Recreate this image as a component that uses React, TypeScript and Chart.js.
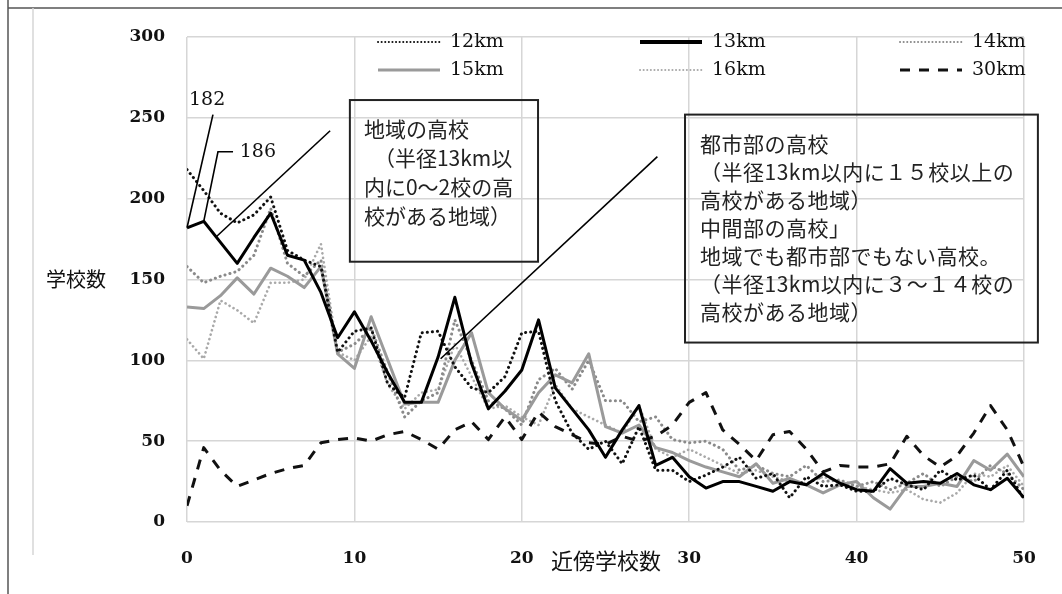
import React, { useEffect, useRef } from "react";
import { Chart, registerables } from "chart.js";

Chart.register(...registerables);

// 近傍学校数 (x categories)
const neighbours = [
  0, 1, 2, 3, 4, 5, 6, 7, 8, 9, 10, 11, 12, 13, 14, 15, 16, 17, 18, 19, 20,
  21, 22, 23, 24, 25, 26, 27, 28, 29, 30, 31, 32, 33, 34, 35, 36, 37, 38, 39, 40,
  41, 42, 43, 44, 45, 46, 47, 48, 49, 50,
];

const km12 = [
  218, 205, 191, 185, 190, 201, 168, 162, 158, 105, 118, 120, 85, 77, 117, 118, 96, 83, 80, 90, 117,
  118, 75, 55, 45, 50, 36, 59, 32, 32, 25, 29, 34, 40, 27, 30, 15, 28, 22, 23, 19,
  19, 27, 23, 20, 32, 26, 29, 20, 32, 14,
];
const km13 = [
  182, 186, 173, 160, 176, 191, 165, 162, 142, 114, 130, 112, 92, 74, 74, 102, 139, 98, 70, 81, 94,
  125, 83, 70, 57, 40, 57, 72, 35, 40, 28, 21, 25, 25, 22, 19, 25, 23, 30, 24, 20,
  19, 33, 24, 25, 24, 30, 23, 20, 27, 15,
];
const km14 = [
  158, 148, 152, 155, 165, 194, 160, 152, 162, 105, 110, 120, 92, 65, 75, 80, 125, 100, 75, 70, 60,
  88, 95, 82, 100, 75, 75, 62, 65, 51, 49, 50, 45, 32, 35, 30, 28, 35, 25, 26, 22,
  25, 20, 24, 30, 22, 28, 25, 35, 30, 20,
];
const km15 = [
  133, 132, 140, 151, 141, 157, 152, 145, 158, 104, 95, 127, 100, 73, 74, 74, 100, 117, 80, 70, 63,
  80, 91, 86, 104, 59, 55, 60, 46, 43, 38, 34, 31, 28, 36, 24, 27, 23, 18, 23, 25,
  15, 8, 22, 22, 24, 22, 38, 32, 42, 28,
];
const km16 = [
  113, 101, 137, 131, 123, 148, 148, 150, 172, 105, 100, 115, 85, 70, 80, 82, 110, 90, 70, 72, 65,
  60, 85, 70, 65, 60, 55, 72, 45, 40, 45, 40, 35, 30, 32, 28, 25, 24, 28, 25, 22,
  20, 18, 20, 14, 12, 18, 30, 28, 35, 22,
];
const km30 = [
  10, 46, 32, 22, 26, 30, 33, 35, 49, 51, 52, 50, 54, 56, 51, 45, 57, 62, 51, 65, 51,
  68, 59, 54, 49, 48, 53, 50, 53, 60, 74, 80, 57, 48, 38, 54, 56, 45, 31, 35, 34,
  34, 36, 53, 41, 34, 41, 55, 72, 57, 34,
];

const seriesLabels = ["12km", "13km", "14km", "15km", "16km", "30km"];
const yTicks = [0, 50, 100, 150, 200, 250, 300];
const xTicks = [0, 10, 20, 30, 40, 50];

const ruralText = ["地域の高校", "（半径13km以", "内に0～2校の高", "校がある地域）"];
const urbanText = [
  "都市部の高校",
  "（半径13km以内に１５校以上の",
  "高校がある地域）",
  "中間部の高校」",
  "地域でも都市部でもない高校。",
  "（半径13km以内に３～１４校の",
  "高校がある地域）",
];

const styles: Record<string, any> = {
  "12km": { color: "#111", width: 3, dash: [0.1, 5], cap: "round" },
  "13km": { color: "#000", width: 3, dash: [], cap: "butt" },
  "14km": { color: "#8a8a8a", width: 3, dash: [0.1, 5], cap: "round" },
  "15km": { color: "#9a9a9a", width: 3, dash: [], cap: "butt" },
  "16km": { color: "#a9a9a9", width: 2.6, dash: [0.1, 4.5], cap: "round" },
  "30km": { color: "#111", width: 3, dash: [10, 9], cap: "butt" },
};

const LEGEND_FONT = "19px 'DejaVu Serif', serif";
const JP_FONT = "21px 'Noto Sans CJK JP', sans-serif";

const decorPlugin = {
  id: "decor",
  beforeDraw(chart: any) {
    const ctx = chart.ctx;
    ctx.save();
    ctx.fillStyle = "#fff";
    ctx.fillRect(0, 0, chart.width, chart.height);
    ctx.strokeStyle = "#555";
    ctx.lineWidth = 1.5;
    ctx.beginPath();
    ctx.moveTo(8, 0);
    ctx.lineTo(8, chart.height);
    ctx.moveTo(8, 8);
    ctx.lineTo(chart.width, 8);
    ctx.stroke();
    ctx.strokeStyle = "#d6d6d6";
    ctx.beginPath();
    ctx.moveTo(33, 8);
    ctx.lineTo(33, 555);
    ctx.stroke();
    ctx.restore();
  },
  afterDatasetsDraw(chart: any) {
    const ctx = chart.ctx;
    const X = (v: number) => chart.scales.x.getPixelForValue(v);
    const Y = (v: number) => chart.scales.y.getPixelForValue(v);
    ctx.save();

    // legend
    const cols = [378, 640, 900];
    const rows = [42, 70];
    seriesLabels.forEach((name, i) => {
      const s = styles[name];
      const lx = cols[i % 3];
      const ly = rows[Math.floor(i / 3)];
      ctx.beginPath();
      ctx.strokeStyle = s.color;
      ctx.lineWidth = name === "13km" ? 4 : s.dash.length && s.cap === "round" ? 2 : 3;
      ctx.setLineDash(s.cap === "round" ? [0.1, 3.5] : s.dash);
      ctx.lineCap = s.cap;
      ctx.moveTo(lx, ly);
      ctx.lineTo(lx + 62, ly);
      ctx.stroke();
      ctx.setLineDash([]);
      ctx.lineCap = "butt";
      ctx.fillStyle = "#111";
      ctx.font = LEGEND_FONT;
      ctx.textAlign = "left";
      ctx.textBaseline = "middle";
      ctx.fillText(name, lx + 72, ly);
    });

    // boxes
    ctx.strokeStyle = "#222";
    ctx.lineWidth = 2;
    const b1 = { x0: X(9.73), y0: Y(261), x1: X(20.97), y1: Y(161) };
    const b2 = { x0: X(29.75), y0: Y(252), x1: X(50.83), y1: Y(111) };
    ctx.strokeRect(b1.x0, b1.y0, b1.x1 - b1.x0, b1.y1 - b1.y0);
    ctx.strokeRect(b2.x0, b2.y0, b2.x1 - b2.x0, b2.y1 - b2.y0);

    ctx.fillStyle = "#222";
    ctx.font = JP_FONT;
    ctx.textBaseline = "middle";
    ctx.textAlign = "left";
    const r1x = [14, 24, 14, 14];
    ruralText.forEach((t, i) => ctx.fillText(t, b1.x0 + r1x[i], b1.y0 + 29 + i * 29));
    (ctx as any).letterSpacing = "0.5px";
    urbanText.forEach((t, i) => ctx.fillText(t, b2.x0 + 15, b2.y0 + 29 + i * 28));
    (ctx as any).letterSpacing = "0px";

    // leader lines
    ctx.strokeStyle = "#000";
    ctx.lineWidth = 1.6;
    const poly = (pts: number[][]) => {
      ctx.beginPath();
      pts.forEach(([a, b], i) => (i ? ctx.lineTo(X(a), Y(b)) : ctx.moveTo(X(a), Y(b))));
      ctx.stroke();
    };
    poly([[0, 182], [1.55, 252]]);
    poly([[1, 186], [1.85, 229], [2.75, 229]]);
    poly([[1.7, 176], [8.55, 242]]);
    poly([[15.15, 101], [28.1, 226]]);

    ctx.font = LEGEND_FONT;
    ctx.fillStyle = "#111";
    ctx.textAlign = "center";
    ctx.fillText("182", X(1.2), Y(261));
    ctx.textAlign = "left";
    ctx.fillText("186", X(3.15), Y(229));

    // axis titles
    ctx.font = "20px 'Noto Sans CJK JP', sans-serif";
    ctx.textAlign = "center";
    ctx.fillText("学校数", 76, Y(150));
    ctx.font = "22px 'Noto Sans CJK JP', sans-serif";
    ctx.fillText("近傍学校数", 606, 561);
    ctx.restore();
  },
};

export default function App() {
  const ref = useRef<HTMLCanvasElement | null>(null);
  useEffect(() => {
    document.body.style.margin = "0";
    const all: Record<string, number[]> = {
      "12km": km12,
      "13km": km13,
      "14km": km14,
      "15km": km15,
      "16km": km16,
      "30km": km30,
    };
    const order: Record<string, number> = { "13km": 0, "12km": 1, "30km": 2, "15km": 3, "14km": 4, "16km": 5 };
    const datasets = seriesLabels.map((name) => {
      const s = styles[name];
      return {
        label: name,
        data: neighbours.map((x, i) => ({ x, y: all[name][i] })),
        borderColor: s.color,
        borderWidth: s.width,
        borderDash: s.dash,
        borderCapStyle: s.cap,
        borderJoinStyle: "round",
        pointRadius: 0,
        tension: 0,
        fill: false,
        order: order[name],
      };
    });
    const chart = new Chart(ref.current as HTMLCanvasElement, {
      type: "line",
      data: { datasets } as any,
      options: {
        responsive: false,
        animation: false,
        layout: { padding: { top: 37, right: 38, left: 0, bottom: 0 } },
        plugins: { legend: { display: false }, tooltip: { enabled: false } },
        scales: {
          x: {
            type: "linear",
            min: 0,
            max: 50,
            afterFit: (s: any) => {
              s.height = 72;
            },
            afterBuildTicks: (s: any) => {
              s.ticks = xTicks.map((v) => ({ value: v }));
            },
            ticks: { color: "#111", font: { family: "'DejaVu Serif', serif", size: 17, weight: "bold" }, padding: 26, maxRotation: 0 },
            grid: { color: "#d6d6d6", lineWidth: 1.5, drawTicks: false },
            border: { display: false },
          },
          y: {
            min: 0,
            max: 300,
            afterFit: (s: any) => {
              s.width = 187;
            },
            afterBuildTicks: (s: any) => {
              s.ticks = yTicks.map((v) => ({ value: v }));
            },
            ticks: { color: "#111", font: { family: "'DejaVu Serif', serif", size: 17, weight: "bold" }, padding: 22 },
            grid: { color: "#d6d6d6", lineWidth: 1.5, drawTicks: false },
            border: { display: false },
          },
        },
      } as any,
      plugins: [decorPlugin],
    });
    return () => chart.destroy();
  }, []);
  return (
    <div style={{ width: 1062, height: 594 }}>
      <canvas ref={ref} width={1062} height={594} style={{ display: "block" }} />
    </div>
  );
}
